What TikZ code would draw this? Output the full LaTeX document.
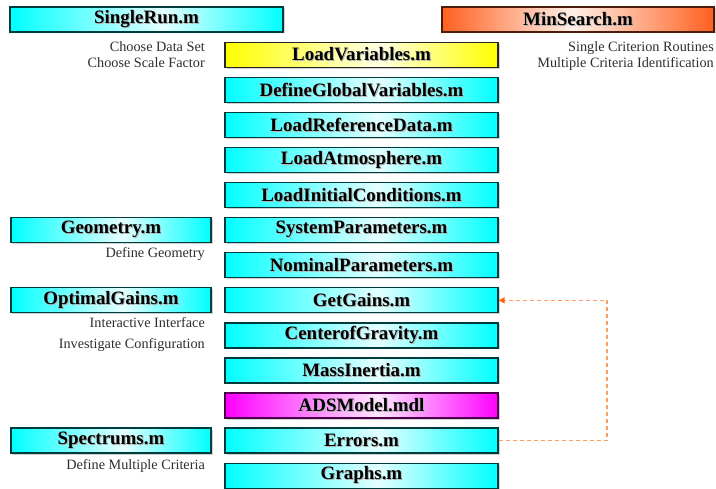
\documentclass[tikz,border=0pt]{standalone}
\usepackage{fontspec}
\setmainfont{Liberation Serif}
\usetikzlibrary{arrows.meta,shadows}
\definecolor{cy}{RGB}{0,255,255}
\definecolor{ye}{RGB}{255,255,0}
\definecolor{mg}{RGB}{255,0,255}
\definecolor{orr}{RGB}{255,96,32}
\definecolor{lightc}{RGB}{228,255,255}
\definecolor{lighty}{RGB}{255,255,228}
\definecolor{lightm}{RGB}{255,232,255}
\definecolor{lighto}{RGB}{255,240,232}
\definecolor{tealborder}{RGB}{0,60,60}
\definecolor{labelgray}{RGB}{45,45,45}
\definecolor{dashorange}{RGB}{250,160,100}
\definecolor{tiporange}{RGB}{255,100,20}
\pgfdeclarehorizontalshading{cyshade}{100bp}{color(0bp)=(cy); color(25bp)=(cy); color(53bp)=(lightc); color(75bp)=(cy); color(100bp)=(cy)}
\pgfdeclarehorizontalshading{yeshade}{100bp}{color(0bp)=(ye); color(25bp)=(ye); color(53bp)=(lighty); color(75bp)=(ye); color(100bp)=(ye)}
\pgfdeclarehorizontalshading{mgshade}{100bp}{color(0bp)=(mg); color(25bp)=(mg); color(53bp)=(lightm); color(75bp)=(mg); color(100bp)=(mg)}
\pgfdeclarehorizontalshading{orshade}{100bp}{color(0bp)=(orr); color(25bp)=(orr); color(49bp)=(lighto); color(75bp)=(orr); color(100bp)=(orr)}
\newcommand\shadowtext[1]{\rlap{\hspace{1bp}\raisebox{-1bp}{\textcolor{black!30}{#1}}}#1}
\tikzset{
  box/.style={draw=tealborder, line width=1.2bp, shading=cyshade, minimum height=25bp,
    inner sep=0pt, font=\fontsize{19}{21}\selectfont\bfseries,
    drop shadow={shadow xshift=1.5bp, shadow yshift=-1.5bp, fill=black!30, opacity=0.6}},
  wide/.style={minimum width=273bp},
  narrow/.style={minimum width=200bp},
  yellowbox/.style={shading=yeshade, draw=black!85},
  magentabox/.style={shading=mgshade, draw=black!70!mg},
  orangebox/.style={shading=orshade, draw=black!70!orr},
  lbl/.style={anchor=base east, inner sep=0pt, text=labelgray, font=\fontsize{14.3}{16}\selectfont},
  loopline/.style={draw=dashorange, line width=1.4bp, dash pattern=on 4bp off 3bp,
    -{Triangle[length=6bp,width=6bp,fill=tiporange,color=tiporange]}}
}
\begin{document}
\begin{tikzpicture}[x=1bp,y=-1bp]
\useasboundingbox (0,0) rectangle (716,489);
% top row
\node[box,wide] (singlerun) at (146.5,19.5) {\shadowtext{SingleRun.m}};
\node[box,orangebox,minimum width=272bp] (minsearch) at (578,19.5) {\shadowtext{MinSearch.m}};
% central column
\node[box,wide,yellowbox] (loadvar) at (361.5,55) {\shadowtext{LoadVariables.m}};
\node[box,wide] (defglob) at (361.5,90.05) {\shadowtext{DefineGlobalVariables.m}};
\node[box,wide] (loadref) at (361.5,125.1) {\shadowtext{LoadReferenceData.m}};
\node[box,wide] (loadatm) at (361.5,160.15) {\shadowtext{LoadAtmosphere.m}};
\node[box,wide] (loadinit) at (361.5,195.2) {\shadowtext{LoadInitialConditions.m}};
\node[box,wide] (syspar) at (361.5,230.25) {\shadowtext{SystemParameters.m}};
\node[box,wide] (nompar) at (361.5,265.3) {\shadowtext{NominalParameters.m}};
\node[box,wide] (getgains) at (361.5,300.35) {\shadowtext{GetGains.m}};
\node[box,wide] (cog) at (361.5,335.4) {\shadowtext{CenterofGravity.m}};
\node[box,wide] (mass) at (361.5,370.45) {\shadowtext{MassInertia.m}};
\node[box,wide,magentabox] (ads) at (361.5,405.5) {\shadowtext{ADSModel.mdl}};
\node[box,wide] (errors) at (361.5,440.55) {\shadowtext{Errors.m}};
\node[box,wide] (graphs) at (361.5,475.6) {\shadowtext{Graphs.m}};
% left column
\node[box,narrow] (geometry) at (111,230.25) {\shadowtext{Geometry.m}};
\node[box,narrow] (optgains) at (111,300.35) {\shadowtext{OptimalGains.m}};
\node[box,narrow] (spectrums) at (111,440.55) {\shadowtext{Spectrums.m}};
% labels
\node[lbl] (l1) at (205,52) {Choose Data Set};
\node[lbl] (l2) at (205,68) {Choose Scale Factor};
\node[lbl] (l3) at (714,52) {Single Criterion Routines};
\node[lbl] (l4) at (714,68) {Multiple Criteria Identification};
\node[lbl] (l5) at (205,258) {Define Geometry};
\node[lbl] (l6) at (205,327.5) {Interactive Interface};
\node[lbl] (l7) at (205,348) {Investigate Configuration};
\node[lbl] (l8) at (205,469) {Define Multiple Criteria};
% feedback connector
\coordinate (corner1) at (607,440.55);
\coordinate (corner2) at (607,300.35);
\draw[loopline] (errors.east) -- (corner1) -- (corner2) -- (getgains.east);
\end{tikzpicture}
\end{document}
